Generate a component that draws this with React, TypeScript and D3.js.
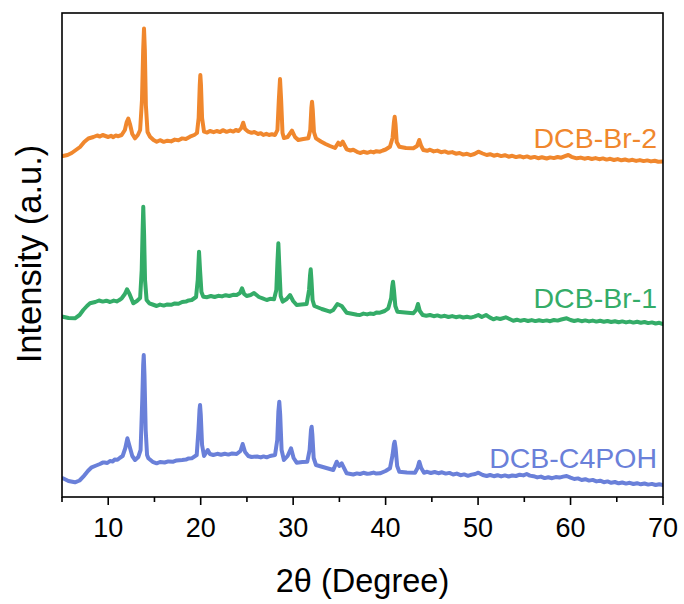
import React from "react";
import * as d3 from "d3";

// 2θ (degree), intensity (a.u.) pairs
const seriesNames = ["DCB-Br-2", "DCB-Br-1", "DCB-C4POH"];
const seriesColors = ["#F0872D", "#34AC68", "#6A80D9"];

const dcbBr2: [number, number][] = [
  [5.1, 341], [5.6, 342], [6.05, 344], [6.5, 347], [6.95, 350], [7.4, 355], [7.85, 358.5], [8.4, 360], [8.8, 361.5],
  [9.1, 360.5], [9.4, 362], [9.7, 361], [10.0, 360], [10.3, 361.2], [10.55, 359.8], [10.8, 361.5], [11.1, 360.8],
  [11.45, 362], [11.8, 367], [12.0, 375], [12.17, 378.5],
  [12.35, 373], [12.6, 363], [12.9, 358.7], [13.2, 362], [13.45, 367], [13.65, 397], [13.78, 447], [13.87, 468.5],
  [13.96, 447], [14.07, 392], [14.25, 365], [14.52, 360.3], [14.9, 357], [15.24, 355.3], [15.6, 356.8], [16.0, 355.2],
  [16.4, 356.3], [16.8, 355.6], [17.2, 357.4], [17.6, 356.8], [18.0, 358.6], [18.4, 358.0], [18.84, 360.3], [19.3, 362],
  [19.6, 364], [19.78, 379], [19.9, 412],
  [19.96, 422], [20.03, 412], [20.15, 379], [20.36, 365.3], [20.7, 364.4], [21.0, 366], [21.4, 364.8], [21.73, 366],
  [22.1, 365], [22.4, 366.8], [22.8, 365.2], [23.2, 366.4], [23.53, 365.4], [23.8, 367], [24.1, 366],
  [24.4, 369], [24.6, 374.3], [24.8, 368], [25.15, 365.3], [25.5, 364.2], [25.8, 365.0], [26.2, 363], [26.5, 363.8],
  [26.77, 362], [27.1, 363.2], [27.4, 362], [27.7, 362.8], [28.04, 362], [28.3, 367], [28.45, 397], [28.58, 418],
  [28.7, 397], [28.85, 364],
  [29.0, 359], [29.4, 360], [29.87, 366.3], [30.2, 360], [30.55, 357], [31.1, 358], [31.64, 358.7], [31.85, 367],
  [31.97, 389], [32.04, 395.3], [32.12, 387], [32.25, 365], [32.47, 358.7], [33.0, 355.5], [33.5, 353], [33.98, 351],
  [34.53, 349], [34.88, 354.3], [35.1, 352], [35.36, 355.3], [35.79, 347.7], [36.2, 346.5], [36.5, 347.2],
  [36.9, 345.2], [37.23, 344], [37.6, 345.2], [38.0, 344.2], [38.4, 345.4], [38.7, 344.6], [39.0, 345.8],
  [39.39, 345.3], [39.7, 346.5], [40.0, 347.5], [40.47, 350.3], [40.75, 359], [40.9, 375], [40.98, 380.3], [41.07, 373],
  [41.2, 355], [41.48, 350.3], [42.2, 349], [43.0, 348.7], [43.4, 351], [43.64, 357], [43.85, 351], [44.08, 347],
  [44.5, 346.2], [44.8, 347.3], [45.2, 345.6], [45.6, 346.4], [46.0, 344.8], [46.4, 345.6], [46.8, 344.2], [47.2, 344.9],
  [47.6, 343.3], [48.0, 344.0], [48.4, 342.4], [48.8, 343.2], [49.2, 341.8], [49.6, 343.0], [50.03, 345.3], [50.5, 343.5],
  [50.93, 342], [51.3, 342.8], [51.7, 341.3], [52.1, 342.2], [52.5, 340.9], [52.9, 341.8], [53.3, 340.3], [53.7, 341.2],
  [54.1, 339.9], [54.5, 340.8], [54.9, 339.6], [55.3, 340.6], [55.7, 339.2], [56.1, 340.1], [56.5, 338.8], [56.9, 339.7],
  [57.42, 338.5], [57.8, 339.6], [58.2, 338.9], [58.6, 340.0], [59.0, 339.3], [59.4, 340.8], [59.76, 342], [60.1, 340.2],
  [60.67, 338.7], [61.1, 339.4], [61.5, 338.3], [61.9, 339.1], [62.3, 338.0], [62.7, 338.9], [63.1, 337.8], [63.5, 338.6],
  [63.9, 337.4], [64.3, 338.2], [64.7, 337.0], [65.1, 337.9], [65.5, 336.7], [65.9, 337.5], [66.3, 336.4], [66.7, 337.2],
  [67.1, 336.1], [67.5, 336.9], [67.9, 335.9], [68.3, 336.6], [68.7, 335.6], [69.1, 336.3], [69.5, 335.3], [70.0, 335.6],
];

const dcbBr1: [number, number][] = [
  [5.1, 180.3], [5.7, 179], [6.4, 178.7], [6.9, 182], [7.3, 187], [7.7, 191], [8.03, 193.7], [8.6, 195], [9.0, 196.5],
  [9.4, 195.4], [9.8, 196.3], [10.2, 195], [10.6, 196.4], [10.92, 195.6], [11.2, 197], [11.46, 198.7], [11.8, 203],
  [12.03, 207.7], [12.3, 203], [12.71, 193.7], [13.1, 196],
  [13.45, 199], [13.62, 227], [13.72, 267], [13.79, 290.3], [13.88, 262], [13.98, 217], [14.15, 197], [14.44, 193.7],
  [14.8, 192.5], [15.24, 191], [15.6, 192.4], [16.0, 191.4], [16.4, 192.6], [16.8, 192.2], [17.2, 193.6], [17.6, 193.2],
  [18.0, 195], [18.4, 195.4], [18.7, 196.6], [19.03, 197], [19.5, 200], [19.68, 217], [19.82, 245.3],
  [19.93, 227], [20.08, 205], [20.28, 200.3], [20.7, 199.8], [21.1, 201], [21.5, 200.0], [21.9, 201.2], [22.3, 200.6],
  [22.7, 201.8], [23.1, 201.0], [23.5, 202.2], [23.89, 202], [24.25, 204],
  [24.47, 208.7], [24.7, 203], [24.97, 201], [25.4, 202], [25.77, 204], [26.3, 200], [26.7, 198.6], [27.14, 197],
  [27.5, 198.2], [27.93, 197.7],
  [28.18, 207], [28.3, 235], [28.4, 253.7], [28.5, 232], [28.65, 201], [28.87, 195.3], [29.3, 198], [29.66, 202],
  [30.0, 196], [30.38, 192], [30.9, 192.5], [31.46, 193], [31.72, 207], [31.83, 222], [31.9, 227.7], [31.98, 217],
  [32.1, 197], [32.29, 191], [33.1, 188], [33.98, 185.3], [34.34, 187], [34.78, 193], [35.25, 191], [35.79, 184.3],
  [36.5, 183], [36.9, 182.2], [37.23, 182], [37.6, 183.4], [38.0, 182.6], [38.3, 183.4], [38.7, 183.0], [39.0, 184.4],
  [39.39, 184.3], [39.9, 186], [40.29, 188.7], [40.6, 199], [40.72, 211],
  [40.8, 215.3], [40.9, 207], [41.05, 191], [41.27, 185.3], [42.1, 184.5], [43.0, 183.7], [43.3, 187], [43.5, 193],
  [43.7, 186], [44.01, 182], [44.4, 181.2], [44.8, 182.0], [45.2, 180.8], [45.6, 181.6], [46.0, 180.4], [46.4, 181.2],
  [46.8, 180.0], [47.2, 180.9], [47.6, 179.8], [48.0, 180.6], [48.4, 179.5], [48.8, 180.3], [49.2, 179.4], [49.6, 180.4],
  [50.03, 182], [50.4, 180], [50.86, 182], [51.25, 179.6], [51.65, 177.7], [52.0, 178.9], [52.4, 178.0], [52.99, 179.7],
  [53.4, 178.0], [53.81, 176.3], [54.2, 177.3], [54.6, 176.2], [55.0, 177.1], [55.4, 176.0], [55.8, 176.9], [56.2, 175.9],
  [56.6, 176.8], [57.0, 175.9], [57.42, 176.6], [57.8, 175.8], [58.2, 177.0], [58.6, 176.4], [59.0, 177.5], [59.58, 178.7],
  [60.0, 177.0], [60.4, 176.0], [60.8, 176.9], [61.2, 175.8], [61.6, 176.6], [62.0, 175.6], [62.4, 176.4], [62.8, 175.4],
  [63.2, 176.2], [63.6, 175.2], [64.0, 176.0], [64.4, 175.0], [64.8, 175.8], [65.2, 174.8], [65.6, 175.6], [66.0, 174.6],
  [66.4, 175.4], [66.8, 174.4], [67.2, 175.2], [67.6, 174.2], [68.0, 175.0], [68.4, 173.9], [68.8, 174.6], [69.2, 173.5],
  [69.6, 174.2], [70.0, 173],
];

const dcbC4poh: [number, number][] = [
  [5.1, 18.7], [5.7, 16], [6.4, 14.7], [6.9, 16.5], [7.3, 20.3], [7.8, 26], [8.21, 29.7], [8.7, 31.5], [9.1, 33],
  [9.4, 34.4], [9.6, 34.5], [9.9, 34.0], [10.19, 36], [10.5, 35.6], [10.7, 37.5], [11.0, 37.2], [11.27, 39.3],
  [11.56, 41], [11.85, 49], [12.07, 58.7], [12.3, 51],
  [12.6, 41], [12.9, 37], [13.25, 40], [13.5, 47], [13.68, 97], [13.78, 132], [13.84, 142], [13.92, 122], [14.05, 67],
  [14.2, 42], [14.34, 38.7], [14.8, 35.2], [15.24, 33.7], [15.6, 35.0], [16.1, 34.5], [16.5, 35.6], [17.04, 35.3],
  [17.4, 36.6], [18.0, 37], [18.4, 37.4], [18.7, 38.6], [19.03, 38.7], [19.57, 42],
  [19.76, 67], [19.87, 87], [19.93, 92], [20.01, 82], [20.15, 52], [20.36, 41], [20.76, 47], [21.0, 43], [21.36, 42],
  [21.8, 43.2], [22.2, 42.2], [22.6, 43.2], [23.0, 42.4], [23.4, 43.6], [23.89, 43], [24.3, 46], [24.54, 53], [24.8, 45],
  [25.15, 41], [25.5, 40.0], [26.1, 40.5], [26.5, 39.6], [26.8, 40.6], [27.14, 39.7], [27.5, 41],
  [28.04, 42], [28.28, 57], [28.4, 85], [28.5, 95.3], [28.6, 82], [28.75, 47], [29.0, 37], [29.4, 41], [29.77, 48.7],
  [30.05, 39], [30.38, 34.3], [31.0, 35], [31.53, 35.3], [31.78, 47], [31.93, 67], [32.0, 70.3], [32.08, 62],
  [32.22, 39], [32.47, 32], [33.4, 29.5], [34.34, 27], [34.71, 35.3], [34.99, 31], [35.25, 33.7], [35.79, 23.7],
  [36.5, 22.5], [36.9, 23.6], [37.23, 23], [37.6, 24.2], [38.0, 23.2], [38.3, 23.5], [38.7, 24.4], [39.0, 23.4],
  [39.39, 23.7], [40.0, 26], [40.47, 28.7], [40.75, 42], [40.9, 53],
  [40.98, 55.3], [41.08, 49], [41.25, 31], [41.48, 25.3], [42.3, 24.5], [43.18, 24.3], [43.45, 29], [43.64, 35.3],
  [43.85, 29], [44.15, 24.3], [44.5, 25.2], [44.9, 24.0], [45.3, 25.0], [45.7, 23.8], [46.1, 24.7], [46.5, 23.4],
  [46.9, 24.1], [47.3, 22.5], [47.7, 23.4], [48.1, 21.8], [48.5, 22.6], [48.9, 21.2], [49.3, 22.4], [49.7, 23.0],
  [50.03, 24.3], [50.5, 22], [50.93, 21], [51.3, 22.0], [51.7, 20.8], [52.1, 21.8], [52.5, 20.6], [52.9, 21.6],
  [53.3, 20.5], [53.7, 21.5], [54.1, 21.0], [54.5, 22.3], [54.9, 21.6], [55.26, 23], [55.6, 21.4], [56.0, 20.8],
  [56.4, 19.6], [56.8, 20.4], [57.2, 18.9], [57.6, 19.8], [58.0, 18.8], [58.4, 19.9], [58.8, 19.4], [59.2, 20.4],
  [59.58, 21], [60.0, 19.4], [60.4, 18.0], [60.8, 18.6], [61.2, 17.0], [61.6, 17.8], [62.0, 16.4], [62.4, 17.1],
  [62.8, 15.6], [63.2, 16.3], [63.6, 14.8], [64.0, 15.6], [64.4, 14.2], [64.8, 15.0], [65.2, 13.7], [65.6, 14.5],
  [66.0, 13.4], [66.4, 14.2], [66.8, 13.0], [67.2, 13.8], [67.6, 12.7], [68.0, 13.5], [68.4, 12.4], [68.8, 13.1],
  [69.2, 12.0], [69.6, 12.8], [70.0, 12],
];

const xMajorTicks = [10, 20, 30, 40, 50, 60, 70];
const xMinorTicks = [5, 15, 25, 35, 45, 55, 65];
const xDomain: [number, number] = [5, 70];
const yDomain: [number, number] = [0, 484];

const W = 684;
const H = 604;
const margin = { left: 62, right: 21, top: 13, bottom: 107 };
const FONT = "'Liberation Sans', Arial, Helvetica, sans-serif";

export default function App() {
  const x = d3.scaleLinear().domain(xDomain).range([margin.left, W - margin.right]);
  const y = d3.scaleLinear().domain(yDomain).range([H - margin.bottom, margin.top]);
  const line = d3
    .line<[number, number]>()
    .x((d) => x(d[0]))
    .y((d) => y(d[1]));
  const all = [dcbBr2, dcbBr1, dcbC4poh];
  const x0 = margin.left;
  const x1 = W - margin.right;
  const y0 = H - margin.bottom;
  const y1 = margin.top;
  const labelPos = [
    { v: 70, i: 349 },
    { v: 70, i: 189 },
    { v: 70, i: 29 },
  ];
  return (
    <svg width={W} height={H} style={{ position: "absolute", left: 0, top: 0, background: "#fff" }} fontFamily={FONT}>
      <defs>
        <clipPath id="plot">
          <rect x={x0} y={y1} width={x1 - x0} height={y0 - y1} />
        </clipPath>
      </defs>
      <g clipPath="url(#plot)">
        {all.map((s, k) => (
          <path
            key={k}
            d={line(s) || ""}
            fill="none"
            stroke={seriesColors[k]}
            strokeWidth={4}
            strokeLinejoin="round"
            strokeLinecap="round"
          />
        ))}
      </g>
      {seriesNames.map((n, k) => (
        <text
          key={n}
          x={x(labelPos[k].v) - 6}
          y={y(labelPos[k].i)}
          textAnchor="end"
          fontSize={28.5}
          fill={seriesColors[k]}
        >
          {n}
        </text>
      ))}
      {/* frame */}
      <rect x={x0} y={y1} width={x1 - x0} height={y0 - y1} fill="none" stroke="#000" strokeWidth={1.6} />
      {xMajorTicks.map((t) => (
        <g key={t}>
          <line x1={x(t)} x2={x(t)} y1={y0} y2={y0 + 8} stroke="#000" strokeWidth={1.6} />
          <text x={x(t)} y={y0 + 40} textAnchor="middle" fontSize={27}>
            {t}
          </text>
        </g>
      ))}
      {xMinorTicks.map((t) => (
        <line key={t} x1={x(t)} x2={x(t)} y1={y0} y2={y0 + 5} stroke="#000" strokeWidth={1.6} />
      ))}
      <text x={(x0 + x1) / 2} y={592} textAnchor="middle" fontSize={32.5}>
        2θ (Degree)
      </text>
      <text transform={`translate(41, 254) rotate(-90)`} textAnchor="middle" fontSize={34.5}>
        Intensity (a.u.)
      </text>
    </svg>
  );
}
